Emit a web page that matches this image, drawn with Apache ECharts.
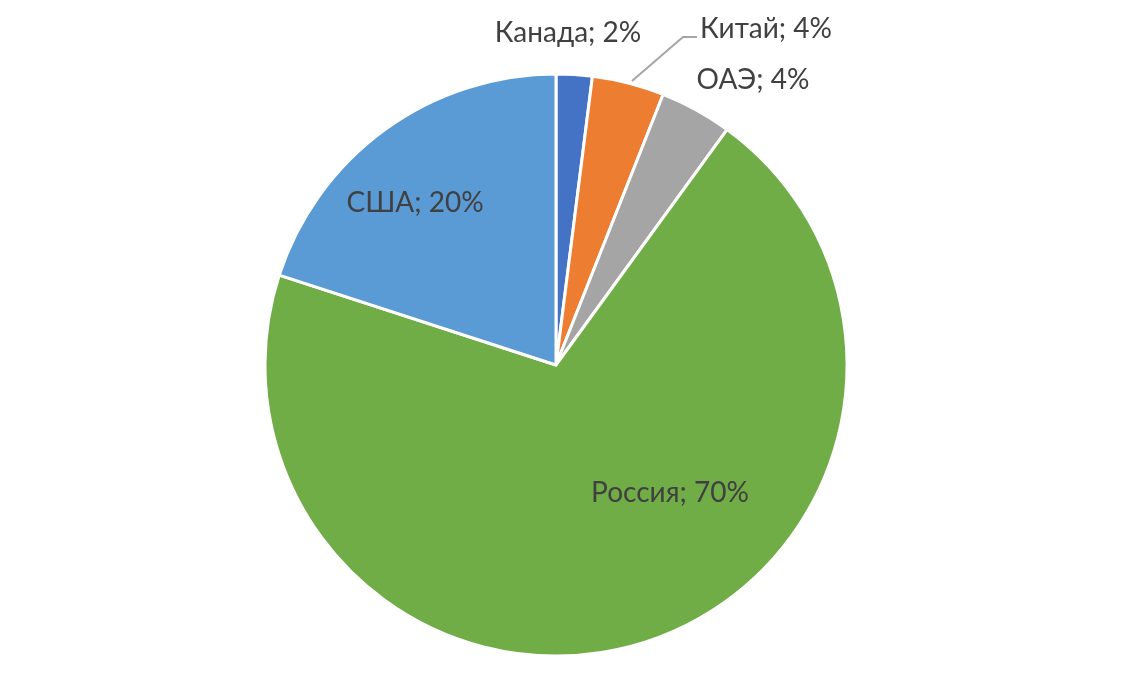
<!DOCTYPE html>
<html>
<head>
<meta charset="utf-8">
<script src="https://cdn.jsdelivr.net/npm/echarts@6/dist/echarts.min.js"></script>
<style>html,body{margin:0;padding:0;background:#fff;}#c{width:1132px;height:680px;}</style>
</head>
<body>
<div id="c"></div>
<script>
const countries = ['Канада', 'Китай', 'ОАЭ', 'Россия', 'США'];
const shares = [2, 4, 4, 70, 20];
const colors = ['#4472C4', '#ED7D31', '#A5A5A5', '#70AD47', '#5B9BD5'];
const labelPos = [[568, 33], [766, 29], [753, 80], [670, 493], [415, 203]];

const chart = echarts.init(document.getElementById('c'));
chart.setOption({
  backgroundColor: '#ffffff',
  animation: false,
  series: [{
    type: 'pie',
    center: [556, 365],
    radius: [0, 291],
    startAngle: 90,
    clockwise: true,
    itemStyle: { borderColor: '#ffffff', borderWidth: 3 },
    label: {
      show: true,
      formatter: '{b}; {c}%',
      color: '#404040',
      fontSize: 28,
      fontFamily: 'Lato, "Open Sans", sans-serif'
    },
    labelLine: { show: false },
    data: countries.map((n, i) => ({
      name: n,
      value: shares[i],
      itemStyle: { color: colors[i] },
      labelLine: { show: i === 1, lineStyle: { color: '#A6A6A6', width: 2 } }
    })),
    labelLayout: function (p) {
      const pos = labelPos[p.dataIndex];
      const r = { x: pos[0], y: pos[1], align: 'center', verticalAlign: 'middle' };
      if (p.dataIndex === 1) {
        r.labelLinePoints = [[632, 81], [683, 37], [697, 37]];
      }
      return r;
    }
  }]
});
</script>
</body>
</html>
